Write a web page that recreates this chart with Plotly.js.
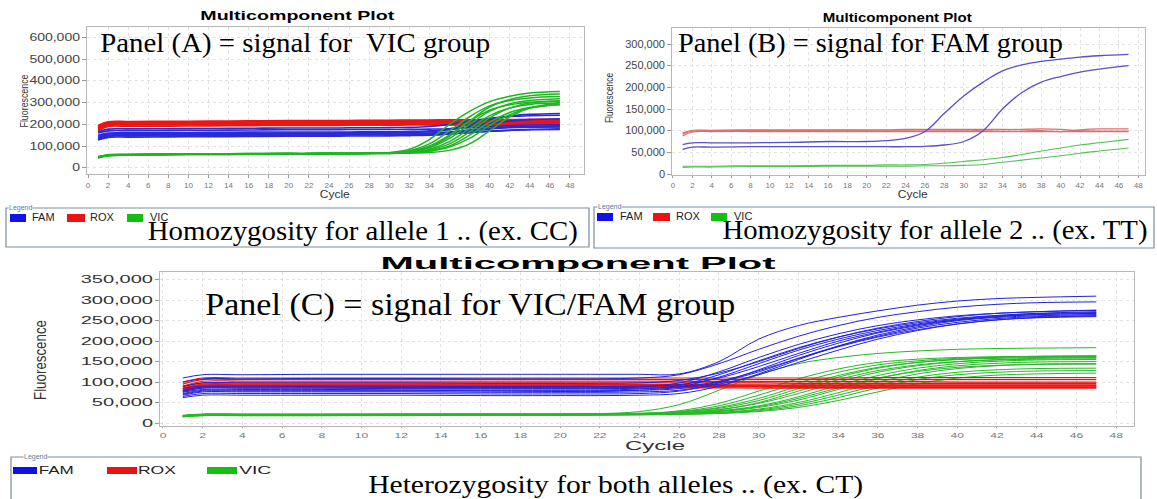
<!DOCTYPE html>
<html><head><meta charset="utf-8">
<script src="https://cdn.plot.ly/plotly-3.0.1.min.js"></script>
<style>html,body{margin:0;padding:0;background:#fff;}#chart{width:1157px;height:499px;}</style>
</head><body><div id="chart"></div>
<script>
// ---------- DATA (fluorescence in thousands) ----------
const CYCLES = [1,2,4,8,12,16,20,22,24,26,28,30,32,34,36,38,40,42,44,47];
const X_TICKS = [0,2,4,6,8,10,12,14,16,18,20,22,24,26,28,30,32,34,36,38,40,42,44,46,48];
const A_Y_TICKS = [0,100000,200000,300000,400000,500000,600000];
const B_Y_TICKS = [0,50000,100000,150000,200000,250000,300000];
const C_Y_TICKS = [0,50000,100000,150000,200000,250000,300000,350000];
const DYES = ["FAM","ROX","VIC"];

// Panel A (VIC group)
const A_ROX = [
 [195,212,213,214,215,216,217,217,218,218,219,219,220,220,221,221,222,222,223,223],
 [185,205,206,207,208,209,210,210,210,211,211,212,212,212,213,213,213,214,214,214],
 [180,200,201,202,203,204,205,205,205,206,206,206,207,207,207,208,208,208,209,209],
 [175,195,196,197,198,199,200,200,200,200,201,201,201,201,202,202,202,202,203,203],
 [190,208,209,210,211,212,213,214,214,215,215,215,216,216,216,217,217,217,218,218],
 [170,190,191,192,193,194,195,195,195,196,196,196,197,197,197,198,198,198,198,198],
 [188,203,204,205,207,208,209,209,210,210,210,210,210,209,209,208,208,207,206,205],
 [182,198,199,200,201,202,203,203,203,204,204,203,202,200,198,196,194,192,190,188]
];
const A_FAM = [
 [128,140,141,142,143,144,145,145,145,146,146,147,148,150,155,162,168,172,175,176],
 [135,148,149,150,151,152,153,153,154,154,155,155,156,158,165,175,183,188,191,193],
 [145,155,156,157,158,159,160,160,160,161,161,162,163,166,175,190,205,215,222,226],
 [150,160,161,162,163,164,165,165,165,165,166,166,167,170,180,200,222,238,246,250],
 [160,170,171,172,173,174,175,175,175,176,176,176,177,178,180,185,190,194,197,198],
 [140,152,153,154,155,156,157,157,157,158,158,158,159,160,163,170,178,184,187,188],
 [165,178,179,180,181,182,183,183,183,184,184,185,186,190,200,215,228,236,240,242],
 [130,145,146,147,148,149,150,150,150,151,151,151,152,153,156,162,168,173,177,180]
];
const A_VIC = [
 [47,57,60,62,63,64,65,65,66,66,67,70,85,130,200,260,305,330,345,352],
 [50,58,60,62,63,64,65,65,66,66,67,69,78,110,170,235,285,310,322,328],
 [48,56,59,61,62,63,64,64,65,65,66,68,75,100,150,215,265,290,302,308],
 [52,60,62,63,64,65,66,66,67,67,68,69,74,92,135,200,260,295,310,318],
 [46,55,58,60,61,62,63,63,64,64,65,66,70,85,120,180,240,275,292,298],
 [50,58,60,62,63,64,65,65,66,66,67,68,71,82,110,165,230,275,298,308],
 [48,57,59,61,62,63,64,64,65,65,66,67,69,78,100,150,210,255,278,290],
 [45,55,58,60,61,62,63,63,64,64,65,66,67,70,80,110,170,235,275,300],
 [49,58,60,62,63,64,65,65,66,66,67,68,73,95,145,215,280,315,332,340],
 [51,59,61,63,64,65,66,66,67,67,68,68,70,76,95,135,195,245,275,292]
];

// Panel B (FAM group)
const B_FAM = [
 [68,72,72,72,73,75,75,77,82,98,140,180,212,238,252,260,265,270,273,276],
 [57,62,62,63,63,63,63,63,63,64,67,75,100,150,188,212,225,235,242,250]
];
const B_ROX = [
 [88,97,98,98,98,98,98,98,98,98,98,98,98,98,98,98,98,98,98,98],
 [92,99,100,100,100,101,101,101,101,101,101,101,101,102,103,104,103,100,99,99],
 [95,101,101,102,102,102,102,102,103,103,103,103,103,103,102,100,98,102,104,104]
];
const B_VIC = [
 [18,18,18,19,19,20,20,21,21,22,25,29,33,38,45,53,60,67,72,80],
 [15,16,16,17,17,18,18,18,18,19,19,20,22,27,32,37,42,48,53,60]
];

// Panel C (VIC/FAM group)
const C_FAM = [
 [110,118,118,119,119,119,119,119,119,120,150,205,238,258,274,288,298,304,307,310],
 [100,108,108,109,109,108,108,108,110,118,145,180,212,238,258,272,283,290,294,296],
 [80,88,88,88,87,87,86,86,88,98,125,160,192,218,238,252,262,268,272,275],
 [75,82,82,82,81,81,81,81,83,92,118,152,184,210,230,245,256,263,268,272],
 [70,78,78,78,78,78,77,77,80,88,112,145,178,205,226,242,254,262,267,270],
 [65,72,72,72,72,71,71,71,72,78,98,130,165,195,220,238,252,260,265,268],
 [85,90,90,90,90,89,89,89,90,94,110,138,170,200,222,240,252,260,265,267],
 [62,68,68,68,68,67,67,67,68,72,90,120,155,188,215,235,250,258,262,265],
 [72,80,80,80,80,79,79,79,80,84,100,125,158,188,212,232,246,255,260,262],
 [78,85,85,85,84,84,84,84,85,88,102,128,158,186,210,228,242,252,257,260],
 [68,76,76,76,76,75,75,75,76,80,95,118,148,178,205,226,242,252,258,262],
 [90,98,98,98,98,97,97,97,98,104,122,150,182,210,232,248,260,268,272,276]
];
const C_ROX = [
 [80,92,92,92,92,92,92,91,91,91,91,91,91,90,90,90,90,90,90,90],
 [85,95,95,95,95,95,95,94,94,94,94,93,93,93,93,93,93,93,93,93],
 [78,88,88,88,88,88,88,88,88,88,88,88,87,87,87,87,87,87,87,87],
 [88,98,98,98,98,98,98,98,98,98,98,98,97,97,97,97,97,97,97,97],
 [90,102,102,102,102,102,102,102,102,102,101,101,101,101,101,101,100,100,100,100],
 [95,106,106,106,106,106,106,106,106,106,106,106,106,106,106,106,106,106,106,106],
 [82,90,90,89,89,89,89,89,89,89,89,89,89,88,88,88,88,88,88,88],
 [100,110,110,110,110,110,110,110,110,110,110,110,110,110,111,111,111,111,111,111],
 [76,86,86,86,86,86,86,86,86,86,86,85,85,85,85,85,85,85,85,85],
 [84,93,93,93,93,93,93,93,92,92,92,92,92,92,92,92,92,92,92,92]
];
const C_VIC = [
 [18,21,21,21,21,22,22,23,28,45,80,118,145,160,170,176,180,182,183,184],
 [16,19,20,20,20,20,21,21,23,30,48,78,108,132,148,156,160,162,163,164],
 [17,20,20,20,21,21,21,22,23,28,42,68,98,124,142,152,158,161,163,164],
 [18,21,21,21,22,22,22,22,23,27,38,60,90,116,136,148,155,158,160,161],
 [19,22,22,22,22,22,22,23,24,27,36,55,84,112,134,148,156,160,162,163],
 [15,18,18,18,19,19,19,20,21,24,32,50,78,106,128,142,150,154,156,157],
 [17,20,20,20,20,20,20,21,22,25,33,48,72,100,124,140,150,155,158,160],
 [18,21,21,21,21,21,21,22,22,24,30,42,64,92,116,134,145,151,154,155],
 [16,19,19,19,19,20,20,20,21,23,28,38,56,82,108,128,140,146,149,150],
 [17,20,20,20,20,20,21,21,22,24,29,40,60,86,110,126,136,141,143,144],
 [18,21,21,21,21,21,21,21,22,23,26,34,50,74,100,120,133,140,144,145],
 [16,19,19,19,19,19,20,20,20,22,25,32,46,68,92,112,124,130,133,134],
 [17,20,20,20,20,20,20,21,21,22,24,30,42,62,86,106,118,124,127,128],
 [15,18,18,18,18,19,19,19,20,21,23,28,38,55,76,96,110,117,120,122]
];

// ---------- RENDERING ----------
const W = 1157, H = 499;
const px = x => x / W, py = y => 1 - y / H;
const SANS = "Liberation Sans, Arial, sans-serif";
const SERIF = "Liberation Serif, Times New Roman, serif";

const traces = [];
function addGroup(curves, color, width, ax) {
  curves.forEach(c => traces.push({
    type: "scatter", mode: "lines", x: CYCLES, y: c.map(v => v * 1000),
    xaxis: "x" + ax, yaxis: "y" + ax, line: {color: color, width: width, shape: "spline"},
    hoverinfo: "skip", showlegend: false
  }));
}
addGroup(A_ROX, "#ee1515", 1.6, "");
addGroup(A_FAM, "#2a2ad6", 1.6, "");
addGroup(A_VIC, "#1fb520", 1.5, "");
addGroup(B_ROX, "#d9706f", 1.2, "2");
addGroup(B_FAM, "#5a4fc4", 1.3, "2");
addGroup(B_VIC, "#55c055", 1.1, "2");
addGroup(C_VIC, "#27b827", 1.0, "3");
addGroup(C_ROX, "#ea1515", 1.2, "3");
addGroup(C_FAM, "#2222dd", 1.0, "3");

function xax(dom, range, tfsize, tl) {
  return {domain: dom, range: range, tickvals: X_TICKS, showgrid: true, gridcolor: "#e2e2e2", griddash: "dot",
    showline: true, mirror: true, linecolor: "#b8b8b8", linewidth: 1, zeroline: false,
    ticks: "outside", ticklen: tl, tickcolor: "#999", tickfont: {family: SANS, size: tfsize, color: "#777"}};
}
function yax(dom, range, tv, tfsize, col) {
  return {domain: dom, range: range, tickvals: tv, tickformat: ",d", showgrid: true, gridcolor: "#e2e2e2", griddash: "dot",
    showline: true, mirror: true, linecolor: "#b8b8b8", linewidth: 1, zeroline: false,
    ticks: "outside", ticklen: 4, tickcolor: "#999", tickfont: {family: SANS, size: tfsize, color: col}};
}

const layout = {
  width: W, height: H, margin: {l: 0, r: 0, t: 0, b: 0}, paper_bgcolor: "#fff", plot_bgcolor: "#fff",
  showlegend: false,
  xaxis: Object.assign(xax([px(87), px(584)], [-0.1, 49.4], 8, 3), {anchor: "y"}),
  yaxis: Object.assign(yax([py(174), py(27)], [-29000, 649000], A_Y_TICKS, 10, "#444"), {anchor: "x"}),
  xaxis2: Object.assign(xax([px(672), px(1145)], [-0.1, 48.7], 8, 2), {anchor: "y2"}),
  yaxis2: Object.assign(yax([py(175), py(28)], [-2300, 337000], B_Y_TICKS, 10, "#444"), {anchor: "x2"}),
  xaxis3: Object.assign(xax([px(160), px(1134)], [-0.15, 48.9], 8, 1), {anchor: "y3"}),
  yaxis3: Object.assign(yax([py(426), py(272)], [-7300, 369000], C_Y_TICKS, 10, "#333"), {anchor: "x3"}),
  annotations: [], shapes: []
};

const ANN_W = [];
function ann(text, x, y, font, opt, tw) {
  layout.annotations.push(Object.assign({text: text, x: px(x), y: py(y), xref: "paper", yref: "paper",
    showarrow: false, xanchor: "center", yanchor: "middle", font: font}, opt || {}));
  ANN_W.push(tw || 0);
}
const titleFont = s => ({family: SANS, size: s, color: "#000", weight: "bold"});
ann("Multicomponent Plot", 297, 15, titleFont(13), {}, 194);
ann("Multicomponent Plot", 897, 17, titleFont(13), {}, 149);
ann("Multicomponent Plot", 578, 263, titleFont(17), {}, 395);
ann("Cycle", 335, 194, {family: SANS, size: 11, color: "#333"}, {}, 30);
ann("Cycle", 913, 194, {family: SANS, size: 11, color: "#333"}, {}, 30);
ann("Cycle", 655, 446, {family: SANS, size: 12, color: "#333"}, {}, 60);
ann("Fluorescence", 24, 101, {family: SANS, size: 11, color: "#333"}, {textangle: -90}, 53);
ann("Fluorescence", 610, 98, {family: SANS, size: 10, color: "#333"}, {textangle: -90}, 50);
ann("Fluorescence", 40, 360, {family: SANS, size: 16, color: "#333"}, {textangle: -90}, 80);
const capFont = s => ({family: SERIF, size: s, color: "#000"});
ann("Panel (A) = signal for\u00a0 VIC group", 295, 43, capFont(28), {}, 390);
ann("Panel (B) = signal for FAM group", 870, 43, capFont(28), {}, 385);
ann("Panel (C) = signal for VIC/FAM group", 470, 304, capFont(32), {}, 530);
ann("Homozygosity for allele 1 .. (ex. CC)", 363, 230, capFont(28), {}, 430);
ann("Homozygosity for allele 2 .. (ex. TT)", 935, 229, capFont(28), {}, 425);
ann("Heterozygosity for both alleles .. (ex. CT)", 615, 484, capFont(26), {}, 495);

const boxes = [
  {x0: 6, y0: 208, x1: 589, y1: 247, lab: [20, 208], sw: [[10, 26], [67, 85], [127, 143]], sy: [214, 222], tx: [30, 88, 148], ty: 217, tw: [0, 0, 0], fs: 11},
  {x0: 594, y0: 207, x1: 1154, y1: 248, lab: [610, 207], sw: [[597, 613], [653, 670], [711, 727]], sy: [213, 221], tx: [618, 674, 732], ty: 216, tw: [0, 0, 0], fs: 11},
  {x0: 11, y0: 457, x1: 1141, y1: 505, lab: [35, 457], sw: [[13, 37], [107, 137], [207, 237]], sy: [467, 474], tx: [43, 143, 244], ty: 470, tw: [35, 38, 32], fs: 11}
];
const SW_COL = ["#1010e8", "#ee1111", "#11c011"];
boxes.forEach(b => {
  layout.shapes.push({type: "rect", xref: "paper", yref: "paper", x0: px(b.x0), x1: px(b.x1), y0: py(b.y1), y1: py(b.y0),
    line: {color: "#7d8d9d", width: 1.2}, fillcolor: "rgba(0,0,0,0)"});
  ann("Legend", b.lab[0], b.lab[1], {family: SANS, size: 7, color: "#5a7a9a"}, {bgcolor: "#fff", borderpad: 0});
  b.sw.forEach((s, i) => {
    layout.shapes.push({type: "rect", xref: "paper", yref: "paper", x0: px(s[0]), x1: px(s[1]), y0: py(b.sy[1]), y1: py(b.sy[0]),
      line: {width: 0}, fillcolor: SW_COL[i]});
    ann(DYES[i], b.tx[i], b.ty, {family: SANS, size: b.fs, color: "#222"}, {xanchor: "left"}, b.tw[i]);
  });
});

function stretch(nodes, f) {
  nodes.forEach(t => { const l = t.getComputedTextLength(); if (l > 0) { t.setAttribute("textLength", (l * f).toFixed(1)); t.setAttribute("lengthAdjust", "spacingAndGlyphs"); } });
}
Plotly.newPlot("chart", traces, layout, {staticPlot: true, displayModeBar: false}).then(gd => {
  gd.querySelectorAll("g.annotation").forEach(g => {
    const i = +g.getAttribute("data-index"); const tw = ANN_W[i];
    if (tw) { const t = g.querySelector("text.annotation-text"); if (t) { t.setAttribute("textLength", tw); t.setAttribute("lengthAdjust", "spacingAndGlyphs"); } }
  });
  stretch(gd.querySelectorAll(".ytick text"), 1.4);
  stretch(gd.querySelectorAll(".y2tick text"), 1.1);
  stretch(gd.querySelectorAll(".y3tick text"), 2.0);
  stretch(gd.querySelectorAll(".x3tick text"), 1.5);
});
</script></body></html>
